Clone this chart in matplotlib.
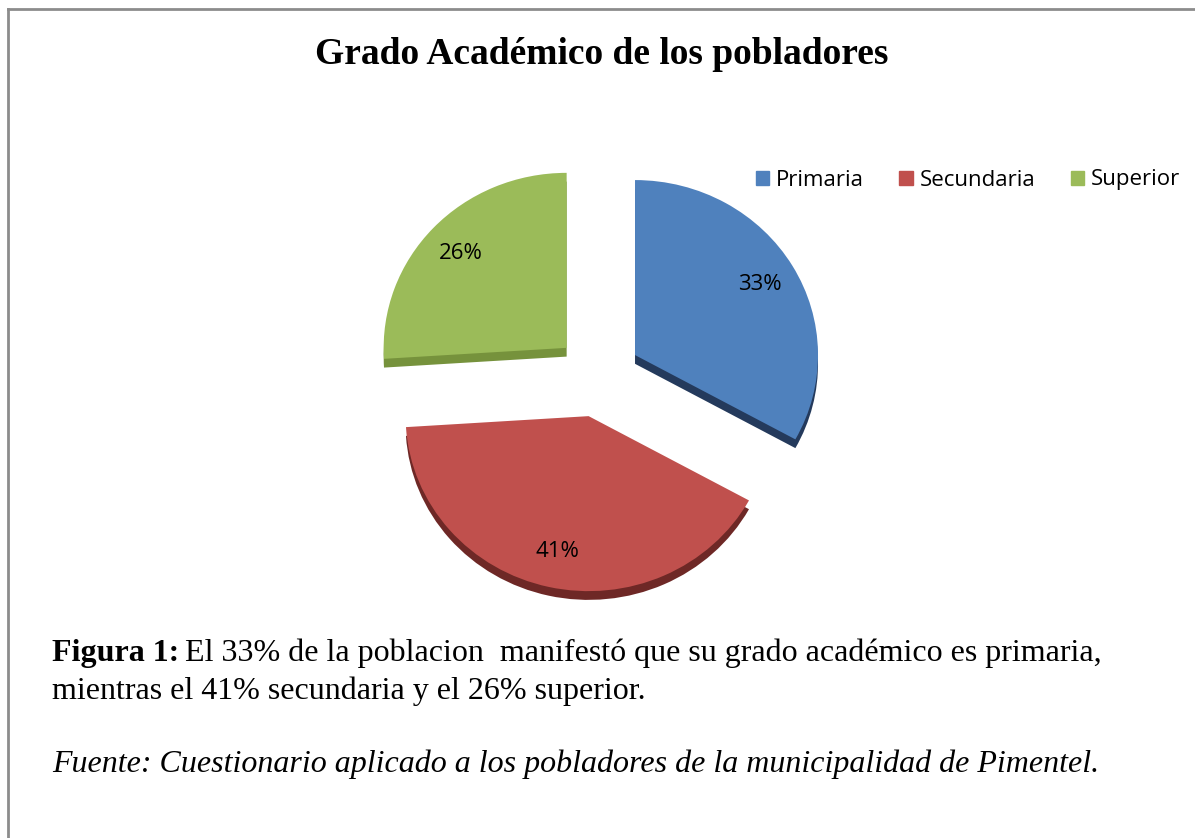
import matplotlib.pyplot as plt
from matplotlib.lines import Line2D
from matplotlib.patches import Patch

labels = ['Primaria', 'Secundaria', 'Superior']
values = [33, 41, 26]
colors = ['#4f81bd', '#c0504d', '#9bbb59']
dark = ['#243a5c', '#6e2826', '#76923c']

W, H = 1195, 838
fig = plt.figure(figsize=(W / 100, H / 100), dpi=100)

# border (left + top only)
fig.add_artist(Line2D([8 / W, 8 / W], [0, 1 - 9 / H], color='#8c8c8c', lw=2))
fig.add_artist(Line2D([8 / W, 1], [1 - 9 / H, 1 - 9 / H], color='#8c8c8c', lw=2))

# pie axes: centre (598, 376) px, rx 183, ry 175
cx, cy, rx, ry = 598, 376, 183, 175
ax = fig.add_axes([(cx - 1.5 * rx) / W, 1 - (cy + 1.5 * ry) / H, 3 * rx / W, 3 * ry / H])
explode = [0.235] * 3

# depth layer
ax.pie(values, colors=dark, explode=explode, startangle=90, counterclock=False,
       center=(0, -0.05), radius=1, wedgeprops=dict(linewidth=0))
wedges, _, autotexts = ax.pie(values, colors=colors, explode=explode, startangle=90,
                              counterclock=False, radius=1, autopct='%1.0f%%',
                              pctdistance=0.79, wedgeprops=dict(linewidth=0),
                              textprops=dict(fontsize=16, family='Open Sans', color='black'))
ax.set_aspect('auto')
ax.set_xlim(-1.5, 1.5)
ax.set_ylim(-1.5, 1.5)
ax.axis('off')

fig.legend(handles=[Patch(color=c, label=l) for c, l in zip(colors, labels)],
           loc='center right', bbox_to_anchor=(1180 / W, 1 - 180 / H), ncol=3,
           frameon=False, handlelength=0.6, handleheight=0.6, handletextpad=0.3,
           columnspacing=1.6, borderpad=0, borderaxespad=0,
           prop=dict(family='Open Sans', size=16))

fig.text(602 / W, 1 - 55 / H, 'Grado Académico de los pobladores', ha='center', va='center',
         family='Liberation Serif', weight='bold', fontsize=27)

serif = 'Liberation Serif'
t = fig.text(52 / W, 1 - 653 / H, 'Figura 1:', ha='left', va='center',
             family=serif, weight='bold', fontsize=23)
fig.canvas.draw()
bb = t.get_window_extent()
fig.text((bb.x1 + 6) / W, 1 - 653 / H,
         'El 33% de la poblacion  manifestó que su grado académico es primaria,',
         ha='left', va='center', family=serif, fontsize=23)
fig.text(52 / W, 1 - 691 / H, 'mientras el 41% secundaria y el 26% superior.',
         ha='left', va='center', family=serif, fontsize=23)
fig.text(52 / W, 1 - 764 / H,
         'Fuente: Cuestionario aplicado a los pobladores de la municipalidad de Pimentel.',
         ha='left', va='center', family=serif, style='italic', fontsize=23)

fig.savefig('out.png', dpi=100)
